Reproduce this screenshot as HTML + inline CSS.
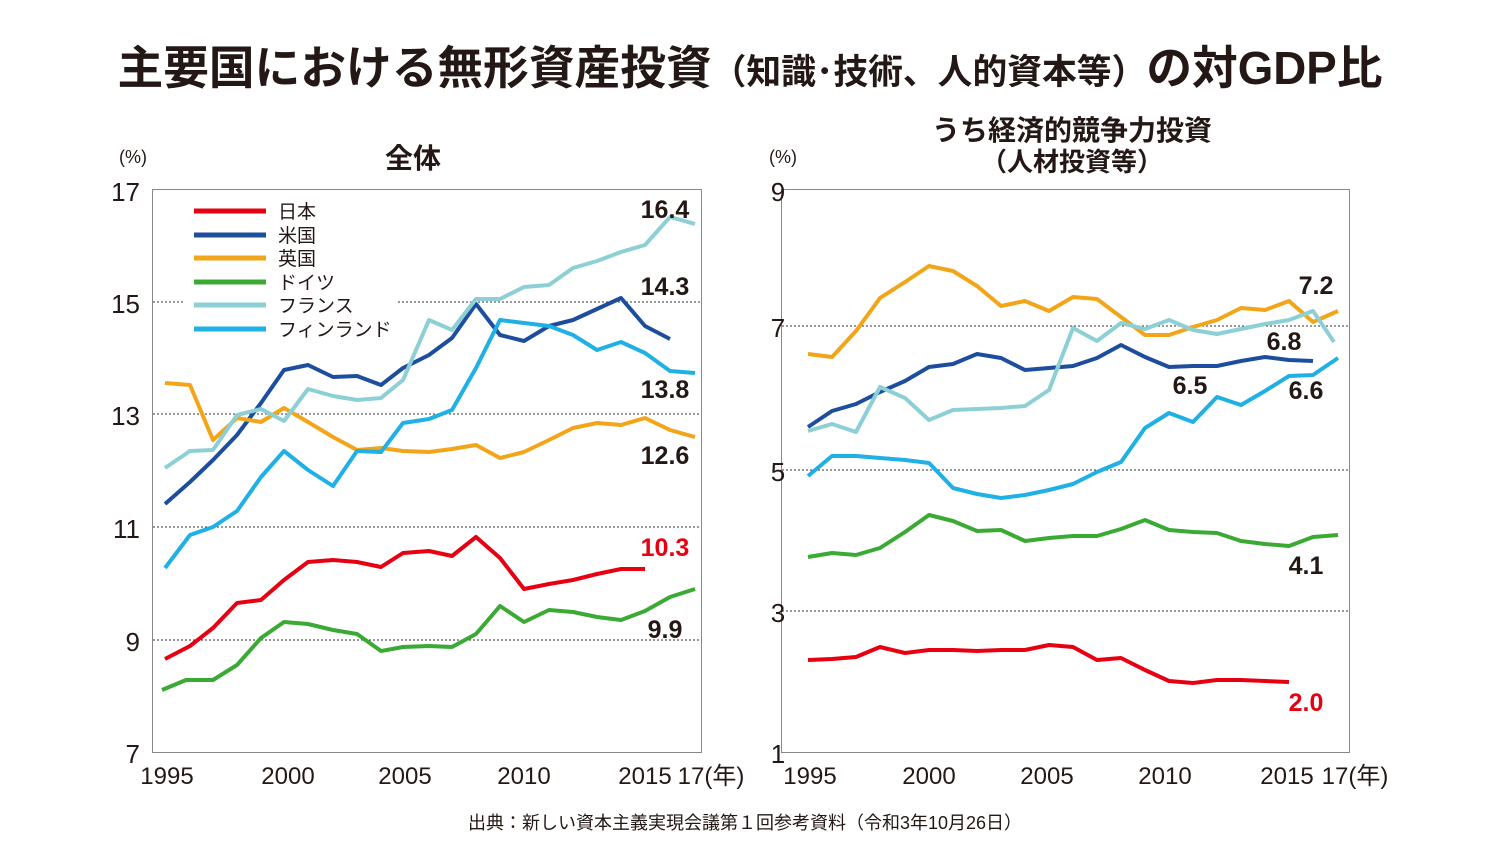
<!DOCTYPE html>
<html><head><meta charset="utf-8"><style>
body{margin:0;background:#fff;}
svg{display:block;}
text{font-family:"Liberation Sans","Noto Sans CJK JP",sans-serif;fill:#231815;}
text.red{fill:#e60012;}
</style></head><body>
<svg width="1500" height="857" viewBox="0 0 1500 857" xmlns="http://www.w3.org/2000/svg">
<text x="750" y="84" text-anchor="middle" font-weight="bold" font-size="46" textLength="1265" lengthAdjust="spacingAndGlyphs">主要国における無形資産投資<tspan font-size="35">（知識･技術、人的資本等）</tspan>の対GDP比</text>

<!-- LEFT CHART -->
<text x="413" y="168" text-anchor="middle" font-size="28" font-weight="bold">全体</text>
<text x="133" y="163" text-anchor="middle" font-size="18">(%)</text>
<rect x="152.5" y="189.5" width="549" height="563" fill="none" stroke="#888" stroke-width="1"/>
<g stroke="#333" stroke-dasharray="2,2" stroke-width="1">
<line x1="153" y1="302" x2="183" y2="302"/><line x1="398" y1="302" x2="701" y2="302"/>
<line x1="153" y1="414" x2="701" y2="414"/>
<line x1="153" y1="527" x2="701" y2="527"/>
<line x1="153" y1="640" x2="701" y2="640"/>
</g>
<g font-size="26" text-anchor="end">
<text x="140" y="201">17</text><text x="140" y="313">15</text><text x="140" y="425">13</text>
<text x="140" y="538">11</text><text x="140" y="651">9</text><text x="140" y="763">7</text>
</g>
<g font-size="24" text-anchor="middle">
<text x="167" y="784">1995</text><text x="288" y="784">2000</text><text x="405" y="784">2005</text>
<text x="524" y="784">2010</text><text x="645" y="784">2015</text><text x="711" y="784">17(年)</text>
</g>
<g fill="none" stroke-width="4" stroke-linejoin="round">
<polyline stroke="#e60012" points="165,659 190,646 213,628 237,603 261,600 284,580 308,562 333,560 357,562 381,567 403,553 429,551 452,556 476,537 500,558 524,589 549,584 573,580 597,574 621,569 645,569"/>
<polyline stroke="#1d4e9e" points="165,504 190,482 213,460 237,435 261,403 284,370 308,365 333,377 357,376 381,385 403,368 429,355 452,338 476,304 500,335 524,341 549,326 573,320 597,309 621,298 645,326 670,339"/>
<polyline stroke="#f3a51a" points="165,383 190,385 213,440 237,418 261,422 284,408 308,422 333,437 357,450 381,448 403,451 429,452 452,449 476,445 500,458 524,452 549,440 573,428 597,423 621,425 645,418 670,430 695,437"/>
<polyline stroke="#3aaa35" points="162,690 186,680 213,680 237,665 261,638 284,622 308,624 333,630 357,634 381,651 403,647 429,646 452,647 476,634 500,606 524,622 549,610 573,612 597,617 621,620 645,611 670,597 695,589"/>
<polyline stroke="#8ccfd4" points="165,468 190,451 213,450 237,415 261,409 284,421 308,389 333,396 357,400 381,398 403,380 429,320 452,330 476,299 500,299 524,287 549,285 573,268 597,261 621,252 645,245 670,217 695,224"/>
<polyline stroke="#1fb0e6" points="165,568 190,535 213,527 237,511 261,477 284,451 308,470 333,486 357,451 381,452 403,423 429,419 452,410 476,368 500,320 524,323 549,326 573,335 597,350 621,342 645,353 670,371 695,373"/>
</g>
<g stroke-width="5">
<line x1="194" y1="211" x2="266" y2="211" stroke="#e60012"/>
<line x1="194" y1="235" x2="266" y2="235" stroke="#1d4e9e"/>
<line x1="194" y1="258" x2="266" y2="258" stroke="#f3a51a"/>
<line x1="194" y1="282" x2="266" y2="282" stroke="#3aaa35"/>
<line x1="194" y1="305" x2="266" y2="305" stroke="#8ccfd4"/>
<line x1="194" y1="329" x2="266" y2="329" stroke="#1fb0e6"/>
</g>
<g font-size="19">
<text x="278" y="218">日本</text><text x="278" y="242">米国</text><text x="278" y="265">英国</text>
<text x="278" y="289">ドイツ</text><text x="278" y="312">フランス</text><text x="278" y="336">フィンランド</text>
</g>
<g font-size="25" font-weight="bold" text-anchor="middle">
<text x="665" y="218">16.4</text><text x="665" y="295">14.3</text><text x="665" y="398">13.8</text>
<text x="665" y="464">12.6</text><text x="665" y="556" class="red">10.3</text><text x="665" y="638">9.9</text>
</g>

<!-- RIGHT CHART -->
<text x="1072" y="140" text-anchor="middle" font-size="28" font-weight="bold">うち経済的競争力投資</text>
<text x="1072" y="171" text-anchor="middle" font-size="26" font-weight="bold">（人材投資等）</text>
<text x="783" y="163" text-anchor="middle" font-size="18">(%)</text>
<rect x="781.5" y="189.5" width="568" height="563" fill="none" stroke="#888" stroke-width="1"/>
<g stroke="#333" stroke-dasharray="2,2" stroke-width="1">
<line x1="782" y1="326" x2="1349" y2="326"/>
<line x1="782" y1="470" x2="1349" y2="470"/>
<line x1="782" y1="611" x2="1349" y2="611"/>
</g>
<g font-size="26" text-anchor="middle">
<text x="778" y="201">9</text><text x="778" y="337">7</text><text x="778" y="481">5</text>
<text x="778" y="622">3</text><text x="778" y="763">1</text>
</g>
<g font-size="24" text-anchor="middle">
<text x="810" y="784">1995</text><text x="929" y="784">2000</text><text x="1047" y="784">2005</text>
<text x="1165" y="784">2010</text><text x="1287" y="784">2015</text><text x="1355" y="784">17(年)</text>
</g>
<g fill="none" stroke-width="4" stroke-linejoin="round">
<polyline stroke="#e60012" points="808,660 832,659 856,657 880,647 905,653 929,650 953,650 977,651 1001,650 1025,650 1049,645 1073,647 1097,660 1121,658 1145,670 1169,681 1193,683 1217,680 1241,680 1265,681 1289,682"/>
<polyline stroke="#1d4e9e" points="808,427 832,411 856,404 880,392 905,381 929,367 953,364 977,354 1001,358 1025,370 1049,368 1073,366 1097,358 1121,345 1145,357 1169,367 1193,366 1217,366 1241,361 1265,357 1289,360 1313,361"/>
<polyline stroke="#f3a51a" points="808,354 832,357 856,331 880,298 905,282 929,266 953,271 977,286 1001,306 1025,301 1049,311 1073,297 1097,299 1121,317 1145,335 1169,335 1193,327 1217,320 1241,308 1265,310 1289,301 1313,322 1338,311"/>
<polyline stroke="#3aaa35" points="808,557 832,553 856,555 880,548 905,532 929,515 953,521 977,531 1001,530 1025,541 1049,538 1073,536 1097,536 1121,529 1145,520 1169,530 1193,532 1217,533 1241,541 1265,544 1289,546 1313,537 1338,535"/>
<polyline stroke="#8ccfd4" points="808,431 832,424 856,432 880,387 905,398 929,420 953,410 977,409 1001,408 1025,406 1049,390 1073,328 1097,341 1121,323 1145,329 1169,320 1193,330 1217,334 1241,329 1265,324 1289,320 1313,311 1334,342"/>
<polyline stroke="#1fb0e6" points="808,476 832,456 856,456 880,458 905,460 929,463 953,488 977,494 1001,498 1025,495 1049,490 1073,484 1097,472 1121,462 1145,428 1169,413 1193,422 1217,397 1241,405 1265,391 1289,376 1313,375 1338,358"/>
</g>
<g font-size="25" font-weight="bold" text-anchor="middle">
<text x="1316" y="294">7.2</text><text x="1284" y="350">6.8</text><text x="1190" y="394">6.5</text>
<text x="1306" y="399">6.6</text><text x="1306" y="574">4.1</text><text x="1306" y="711" class="red">2.0</text>
</g>

<text x="745" y="829" text-anchor="middle" font-size="18">出典：新しい資本主義実現会議第１回参考資料（令和3年10月26日）</text>
</svg>
</body></html>
